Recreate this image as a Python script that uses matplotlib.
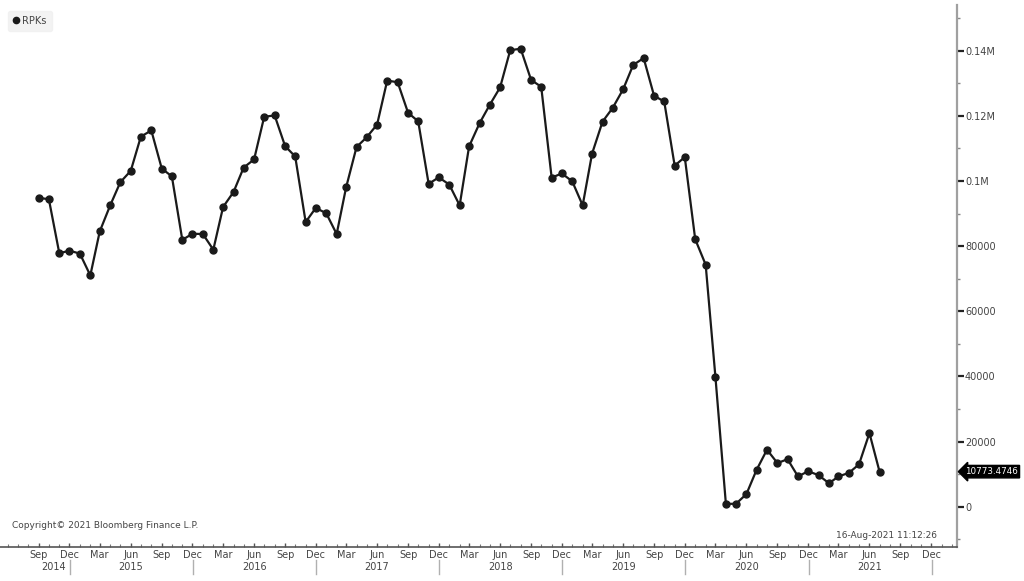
import numpy as np
import pandas as pd
import matplotlib
matplotlib.use("Agg")
import matplotlib.pyplot as plt
import matplotlib.dates as mdates
from matplotlib.transforms import blended_transform_factory
from matplotlib.lines import Line2D

# monthly RPKs, Sep 2014 - Jul 2021
fechas = pd.date_range("2014-09-01", periods=83, freq="MS") + pd.Timedelta(days=14)
rpks = [
    94800, 94400, 77800, 78600, 77700, 71000, 84500, 92500, 99600, 103100,
    113600, 115500, 103800, 101400, 81900, 83800, 83700, 78900, 92000, 96600,
    104100, 106600, 119700, 120100, 110700, 107500, 87400, 91700, 90100, 83700,
    98000, 110400, 113400, 117300, 130800, 130300, 120900, 118300, 99100, 101100,
    98900, 92500, 110600, 117700, 123300, 128700, 140100, 140600, 131000, 128900,
    101000, 102300, 99900, 92500, 108400, 118200, 122400, 128100, 135600, 137700,
    126100, 124400, 104700, 107300, 82100, 74300, 39800, 900, 900, 3900,
    11300, 17500, 13400, 14600, 9300, 10900, 9700, 7200, 9300, 10400,
    13000, 22600, 10773.4746,
]
ultimo = "10773.4746"

y_ticks = [0, 20000, 40000, 60000, 80000, 100000, 120000, 140000]
y_labels = ["0", "20000", "40000", "60000", "80000", "0.1M", "0.12M", "0.14M"]
trimestres = pd.date_range("2014-09-01", "2021-12-01", freq="3MS") + pd.Timedelta(days=14)
nombres_mes = {9: "Sep", 12: "Dec", 3: "Mar", 6: "Jun"}
anios = [2014, 2015, 2016, 2017, 2018, 2019, 2020, 2021]

gris_texto = "#444444"

fig = plt.figure(figsize=(10.24, 5.81), dpi=100, facecolor="white")
ax = fig.add_axes([0.0, 0.0577, 0.9343, 0.9337])

ax.plot(fechas, rpks, color="#1a1a1a", lw=1.6, marker="o", ms=5, label="RPKs")

ax.set_xlim(pd.Timestamp("2014-05-23"), pd.Timestamp("2022-03-01"))
ax.set_ylim(-12500, 154000)

# y axis on the right
ax.yaxis.tick_right()
ax.set_yticks(y_ticks)
ax.set_yticklabels(y_labels)
ax.set_yticks(np.arange(-10000, 150001, 20000), minor=True)
ax.tick_params(axis="y", which="major", direction="out", length=5, width=1.6,
               color="#222222", labelsize=7, labelcolor=gris_texto, pad=1)
ax.tick_params(axis="y", which="minor", direction="out", length=2, width=1, color="#888888")

# x axis
ax.set_xticks(trimestres)
ax.set_xticklabels([nombres_mes[d.month] for d in trimestres])
ax.xaxis.set_minor_locator(mdates.MonthLocator(bymonthday=15))
ax.tick_params(axis="x", which="major", direction="in", length=3, width=1,
               color="#555555", labelsize=7, labelcolor=gris_texto, pad=2)
ax.tick_params(axis="x", which="minor", direction="in", length=2, width=0.8, color="#777777")

for lado in ["left", "top"]:
    ax.spines[lado].set_visible(False)
ax.spines["right"].set_color("#a0a0a0")
ax.spines["right"].set_linewidth(1.6)
ax.spines["bottom"].set_color("#555555")
ax.spines["bottom"].set_linewidth(1.2)

# year labels and separators
trans = blended_transform_factory(ax.transData, fig.transFigure)
y_anio = 1 - 567 / 581
for a in anios:
    if a == 2014:
        xa = pd.Timestamp("2014-10-30")
    else:
        xa = pd.Timestamp(f"{a}-06-15")
    ax.text(xa, y_anio, str(a), transform=trans, ha="center", va="center",
            fontsize=7, color=gris_texto)
    sep = pd.Timestamp(f"{a}-12-17")
    ax.add_line(Line2D([mdates.date2num(sep)] * 2, [1 - 560 / 581, 1 - 574 / 581],
                       transform=trans, color="#b0b0b0", lw=1, clip_on=False))

# legend
leg = ax.legend(loc="upper left", bbox_to_anchor=(0.003, 0.998), frameon=True,
                fontsize=7, handlelength=0.6, handletextpad=0.4, borderpad=0.5,
                markerscale=0.9, fancybox=True)
leg.get_frame().set_facecolor("#f0f0f0")
leg.get_frame().set_edgecolor("#f0f0f0")
leg.get_lines()[0].set_linestyle("none")
for t in leg.get_texts():
    t.set_color(gris_texto)

# last value badge
ax.annotate(ultimo, xy=(1.0, rpks[-1]), xycoords=("axes fraction", "data"),
            xytext=(6, 0), textcoords="offset points", ha="left", va="center",
            fontsize=6.3, color="white",
            bbox=dict(boxstyle="larrow,pad=0.2", fc="black", ec="black"),
            annotation_clip=False)

fig.text(12 / 1024, 1 - 525 / 581, "Copyright\u00a9 2021 Bloomberg Finance L.P.",
         fontsize=6.5, color=gris_texto, va="center", ha="left")
fig.text(937 / 1024, 1 - 535 / 581, "16-Aug-2021 11:12:26",
         fontsize=6.5, color=gris_texto, va="center", ha="right")

fig.savefig("out.png", dpi=100, facecolor="white")
